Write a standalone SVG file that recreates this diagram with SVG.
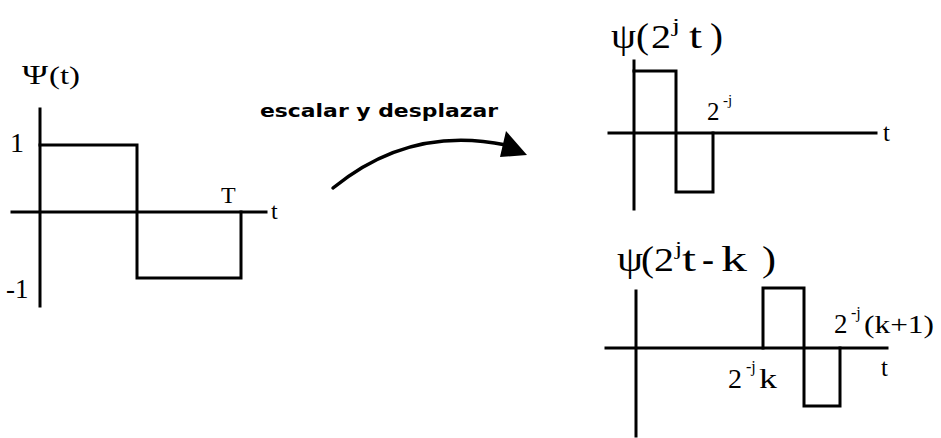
<svg xmlns="http://www.w3.org/2000/svg" width="941" height="438" viewBox="0 0 941 438">
<style>
.ln{fill:none;stroke:#000;stroke-width:3;stroke-linecap:square}
.s{font-family:"Liberation Serif","Times New Roman",serif;fill:#000}
.c{font-family:"DejaVu Sans","Liberation Sans",sans-serif;font-weight:bold;fill:#000}
</style>
<rect width="941" height="438" fill="#fff"/>
<g id="plot-psi">
<path class="ln" d="M40,109V306M12,212H266"/>
<path class="ln" d="M40,145H137V278H241V212"/>
<text class="s" x="22" y="84" font-size="28" textLength="26" lengthAdjust="spacingAndGlyphs">Ψ</text>
<text class="s" x="49" y="84" font-size="25" textLength="31" lengthAdjust="spacingAndGlyphs">(t)</text>
<text class="s" x="10" y="152" font-size="28">1</text>
<text class="s" x="6" y="298" font-size="27">-1</text>
<text class="s" x="221" y="203" font-size="24">T</text>
<text class="s" x="271" y="219" font-size="24">t</text>
</g>
<g id="plot-scaled">
<path class="ln" d="M634,61V209M609,133H876"/>
<path class="ln" d="M634,71H676V192H713V133"/>
<text class="s" x="611" y="48" font-size="36" textLength="25" lengthAdjust="spacingAndGlyphs">ψ</text>
<text class="s" x="636" y="48" font-size="36" textLength="13" lengthAdjust="spacingAndGlyphs">(</text>
<text class="s" x="651" y="48" font-size="34" textLength="20" lengthAdjust="spacingAndGlyphs">2</text>
<text class="s" x="672" y="32" font-size="19" textLength="8" lengthAdjust="spacingAndGlyphs">j</text>
<text class="s" x="689" y="48" font-size="36" textLength="13" lengthAdjust="spacingAndGlyphs">t</text>
<text class="s" x="710" y="48" font-size="36" textLength="13" lengthAdjust="spacingAndGlyphs">)</text>
<text class="s" x="707" y="120" font-size="25">2</text>
<text class="s" x="723" y="105" font-size="15">-j</text>
<text class="s" x="883" y="141" font-size="25">t</text>
</g>
<g id="plot-shifted">
<path class="ln" d="M636,291V436M606,348H887"/>
<path class="ln" d="M763,348V288H804V406H840V348"/>
<text class="s" x="617" y="271" font-size="36" textLength="26" lengthAdjust="spacingAndGlyphs">ψ</text>
<text class="s" x="641" y="271" font-size="36" textLength="13" lengthAdjust="spacingAndGlyphs">(</text>
<text class="s" x="654" y="271" font-size="34" textLength="20" lengthAdjust="spacingAndGlyphs">2</text>
<text class="s" x="675" y="255" font-size="19" textLength="7" lengthAdjust="spacingAndGlyphs">j</text>
<text class="s" x="682" y="271" font-size="36" textLength="14" lengthAdjust="spacingAndGlyphs">t</text>
<text class="s" x="702" y="271" font-size="36" textLength="12" lengthAdjust="spacingAndGlyphs">-</text>
<text class="s" x="721" y="271" font-size="36" textLength="26" lengthAdjust="spacingAndGlyphs">k</text>
<text class="s" x="762" y="271" font-size="36" textLength="14" lengthAdjust="spacingAndGlyphs">)</text>
<text class="s" x="834" y="333" font-size="27">2</text>
<text class="s" x="851" y="318" font-size="16">-j</text>
<text class="s" x="864" y="333" font-size="26" textLength="70" lengthAdjust="spacingAndGlyphs">(k+1)</text>
<text class="s" x="728" y="388" font-size="28">2</text>
<text class="s" x="746" y="372" font-size="16">-j</text>
<text class="s" x="759" y="388" font-size="28" textLength="18" lengthAdjust="spacingAndGlyphs">k</text>
<text class="s" x="881" y="376" font-size="25">t</text>
</g>
<g id="connectors">
<path d="M333,188Q410,125 506,145" fill="none" stroke="#000" stroke-width="3.5" stroke-linecap="round"/>
<polygon points="506,131 527,155 500,157" fill="#000"/>
<text class="c" x="260" y="117" font-size="18" textLength="238" lengthAdjust="spacingAndGlyphs">escalar y desplazar</text>
</g>
</svg>
